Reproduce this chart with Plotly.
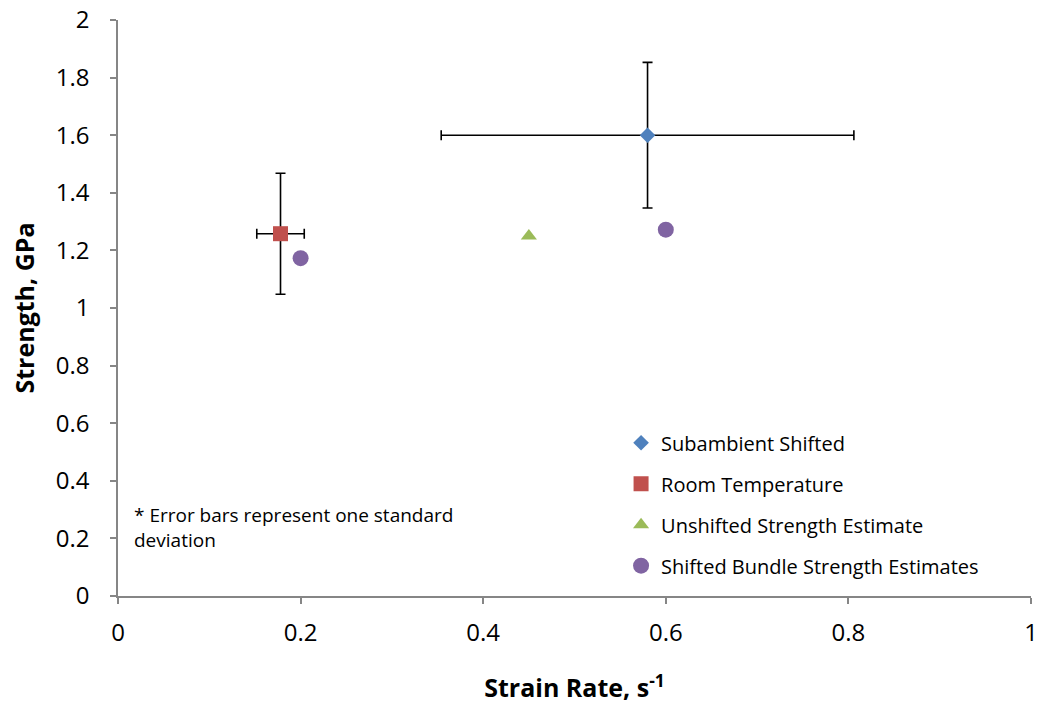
import plotly.graph_objects as go

# Measured strength vs. strain rate
sub_x = [0.58]
sub_y = [1.60]
sub_x_err = [0.226]
sub_y_err = [0.253]

room_x = [0.178]
room_y = [1.258]
room_x_err = [0.026]
room_y_err = [0.21]

unshifted_x = [0.45]
unshifted_y = [1.25]

bundle_x = [0.20, 0.60]
bundle_y = [1.173, 1.272]

x_ticks = [0, 0.2, 0.4, 0.6, 0.8, 1]
y_ticks = [0, 0.2, 0.4, 0.6, 0.8, 1, 1.2, 1.4, 1.6, 1.8, 2]

FONT = "'Open Sans', Lato, sans-serif"
AXIS_GRAY = "#868686"

fig = go.Figure()

err_style = dict(type="data", color="black", thickness=1.6, width=5)

fig.add_trace(go.Scatter(
    x=sub_x, y=sub_y, mode="markers", name="Subambient Shifted",
    legendgroup="a",
    marker=dict(symbol="diamond", size=12, color="#4F81BD"),
    error_x=dict(array=sub_x_err, **err_style),
    error_y=dict(array=sub_y_err, **err_style),
))
fig.add_trace(go.Scatter(
    x=room_x, y=room_y, mode="markers", name="Room Temperature",
    legendgroup="b",
    marker=dict(symbol="square", size=15, color="#C0504D"),
    error_x=dict(array=room_x_err, **err_style),
    error_y=dict(array=room_y_err, **err_style),
))
fig.add_trace(go.Scatter(
    x=unshifted_x, y=unshifted_y, mode="markers", name="Unshifted Strength Estimate",
    legendgroup="c",
    marker=dict(symbol="triangle-up", size=14, color="#9BBB59"),
))
fig.add_trace(go.Scatter(
    x=bundle_x, y=bundle_y, mode="markers", name="Shifted Bundle Strength Estimates",
    legendgroup="d",
    marker=dict(symbol="circle", size=16, color="#8064A2"),
))

fig.add_annotation(
    text="* Error bars represent one standard<br>deviation",
    xref="paper", yref="paper", x=0.015, y=0.166,
    xanchor="left", yanchor="top", align="left", showarrow=False,
    font=dict(family=FONT, size=19, color="black"),
)

fig.update_layout(
    width=1042, height=711,
    margin=dict(l=118, r=11, t=20, b=115, autoexpand=False),
    plot_bgcolor="white", paper_bgcolor="white",
    font=dict(family=FONT, color="black"),
    showlegend=True,
    legend=dict(
        x=0.551, y=0.30, xanchor="left", yanchor="top",
        font=dict(family=FONT, size=20, color="black"),
        tracegroupgap=12, bgcolor="rgba(0,0,0,0)",
    ),
    xaxis=dict(
        range=[0, 1], tickvals=x_ticks, ticktext=[f"{v:g}" for v in x_ticks],
        showgrid=False, zeroline=False, showline=True, linecolor=AXIS_GRAY, linewidth=1.5,
        ticks="outside", ticklen=6, tickcolor=AXIS_GRAY, tickwidth=1.5,
        ticklabelstandoff=8,
        tickfont=dict(family=FONT, size=24, color="black"),
        title=dict(text="<b>Strain Rate, s<sup>-1</sup></b>",
                   font=dict(family=FONT, size=25, color="black"), standoff=33),
    ),
    yaxis=dict(
        range=[0, 2], tickvals=y_ticks, ticktext=[f"{v:g}" for v in y_ticks],
        showgrid=False, zeroline=False, showline=True, linecolor=AXIS_GRAY, linewidth=1.5,
        ticks="outside", ticklen=6, tickcolor=AXIS_GRAY, tickwidth=1.5,
        ticklabelstandoff=16,
        tickfont=dict(family=FONT, size=24, color="black"),
        title=dict(text="<b>Strength, GPa</b>",
                   font=dict(family=FONT, size=25, color="black"), standoff=14),
    ),
)

fig.write_html("out.html")
